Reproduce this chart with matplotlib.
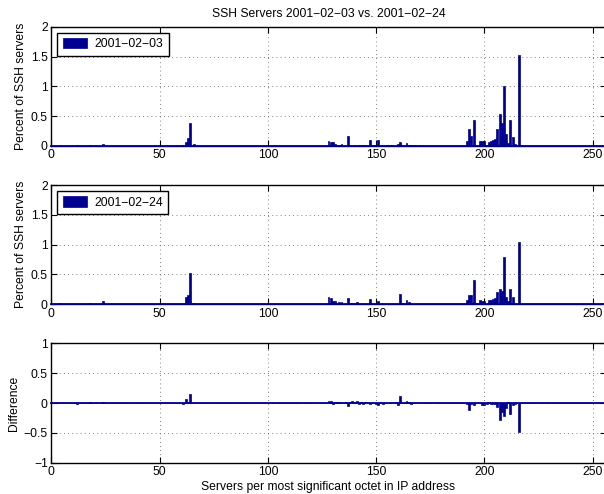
"""SSH servers per first octet, 2001-02-03 vs 2001-02-24, plus difference panel."""
import numpy as np
import matplotlib
matplotlib.use("Agg")
import matplotlib.pyplot as plt

# nonzero bins (octet -> percent of SSH servers)
oct_0203 = [4, 12, 18, 24, 61, 62, 63, 64, 66,
            128, 129, 130, 131, 132, 133, 134, 137, 138, 140, 142, 144, 147, 149, 150,
            151, 153, 155, 157, 160, 161, 162, 164, 165, 166, 168, 170,
            192, 193, 194, 195, 196, 198, 199, 200, 201, 202, 203, 204, 205, 206, 207,
            208, 209, 210, 211, 212, 213, 214, 216, 217]
pct_0203 = [0.01, 0.01, 0.01, 0.04, 0.02, 0.07, 0.14, 0.38, 0.03,
            0.09, 0.06, 0.07, 0.04, 0.02, 0.02, 0.04, 0.16, 0.01, 0.01, 0.01, 0.01, 0.10, 0.01, 0.02,
            0.10, 0.01, 0.01, 0.01, 0.03, 0.06, 0.02, 0.05, 0.02, 0.02, 0.01, 0.01,
            0.09, 0.28, 0.17, 0.44, 0.02, 0.08, 0.09, 0.09, 0.02, 0.06, 0.09, 0.10, 0.12, 0.28, 0.54,
            0.38, 1.00, 0.20, 0.05, 0.44, 0.15, 0.03, 1.53, 0.01]

oct_0224 = [4, 18, 24, 32, 61, 62, 63, 64, 66,
            128, 129, 130, 131, 132, 133, 134, 136, 137, 138, 139, 140, 141, 143, 145, 147, 149,
            151, 152, 155, 157, 159, 161, 162, 164, 165, 166, 168, 170,
            192, 193, 194, 195, 196, 198, 199, 200, 202, 203, 204, 205, 206, 207,
            208, 209, 210, 211, 212, 213, 214, 216, 217]
pct_0224 = [0.015, 0.02, 0.05, 0.005, 0.01, 0.13, 0.16, 0.53, 0.03,
            0.13, 0.10, 0.06, 0.05, 0.03, 0.04, 0.04, 0.01, 0.11, 0.03, 0.03, 0.03, 0.04, 0.01, 0.01, 0.09, 0.01,
            0.06, 0.01, 0.01, 0.01, 0.01, 0.17, 0.02, 0.08, 0.04, 0.01, 0.01, 0.01,
            0.07, 0.16, 0.16, 0.40, 0.02, 0.08, 0.05, 0.05, 0.08, 0.07, 0.09, 0.10, 0.21, 0.25,
            0.23, 0.79, 0.12, 0.06, 0.26, 0.12, 0.01, 1.04, 0.01]

labels = ["2001\u221202\u221203", "2001\u221202\u221224"]
x_ticks = [0, 50, 100, 150, 200, 250]

octets = np.arange(256)
a = np.zeros(256); a[oct_0203] = pct_0203
b = np.zeros(256); b[oct_0224] = pct_0224
diff = b - a

BLUE = "#000090"
plt.rcParams["font.family"] = ["Liberation Sans", "DejaVu Sans"]
plt.rcParams["font.size"] = 8.75

fig = plt.figure(figsize=(6.04, 4.94), dpi=100)
L, W, H = 0.0849, 0.918, 0.2415
axs = [fig.add_axes([L, 0.7045, W, H]), fig.add_axes([L, 0.384, W, H]),
       fig.add_axes([L, 0.0634, W, H])]

def style(ax, ylim, yticks):
    ax.set_xlim(0, 256); ax.set_ylim(*ylim)
    ax.set_xticks(x_ticks); ax.set_yticks(yticks)
    ax.set_yticklabels([("%g" % t).replace("-", "\u2212") for t in yticks])
    ax.tick_params(direction="in", length=4, width=0.8, top=True, right=True, pad=2.5)
    ax.grid(True, ls=(0, (1, 4)), color="0.35", lw=0.6)
    for s in ax.spines.values():
        s.set_linewidth(1.0)
    ax.axhline(0, color=BLUE, lw=1.3, zorder=3, clip_on=False)

for ax, y, lab in [(axs[0], a, labels[0]), (axs[1], b, labels[1])]:
    ax.bar(octets, y, width=0.9, color=BLUE, edgecolor=BLUE, lw=0.5, label=lab, zorder=2)
    style(ax, (0, 2), [0, 0.5, 1, 1.5, 2])
    ax.set_ylabel("Percent of SSH servers", labelpad=3)
    ax.legend(loc="upper left", bbox_to_anchor=(0.0108, 0.95), borderaxespad=0,
              fancybox=False, framealpha=1, edgecolor="black", handlelength=2.0,
              handleheight=0.9, handletextpad=0.6, borderpad=0.45).get_frame().set_linewidth(1.0)

axs[2].bar(octets, diff, width=0.9, color=BLUE, edgecolor=BLUE, lw=0.5, zorder=2)
style(axs[2], (-1, 1), [-1, -0.5, 0, 0.5, 1])
axs[2].set_ylabel("Difference", labelpad=3)
axs[2].set_xlabel("Servers per most significant octet in IP address", labelpad=2)

axs[0].set_title("SSH Servers %s vs. %s" % (labels[0], labels[1]), pad=7, fontsize=8.75)
fig.savefig("out.png", dpi=100)
